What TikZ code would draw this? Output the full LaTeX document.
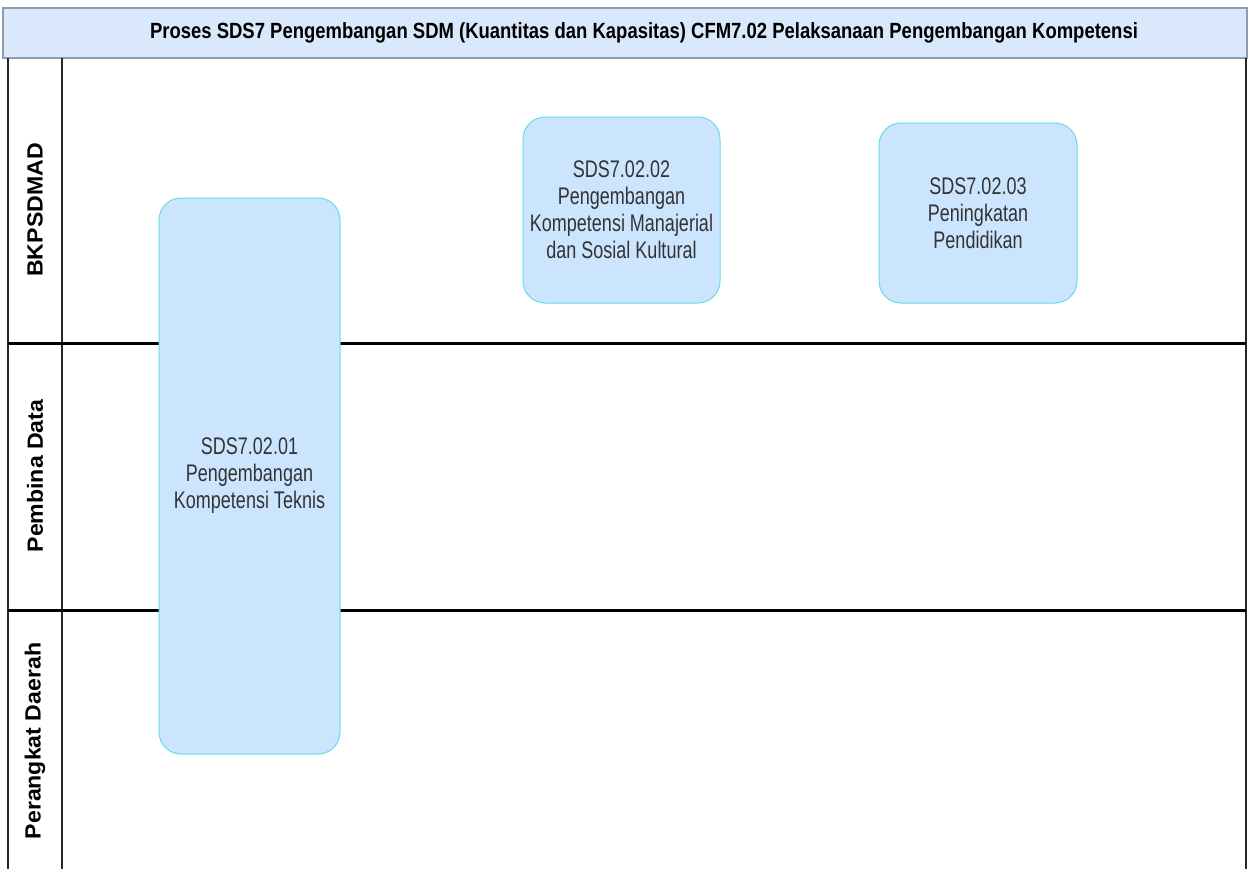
\documentclass[tikz,border=0pt]{standalone}
\usepackage{fontspec}
\setmainfont{Liberation Sans}
\newfontfamily\headfont[FakeStretch=0.84]{Liberation Sans}
\newfontfamily\lanefont[FakeStretch=1.05]{Liberation Sans}
\newfontfamily\taskfont[FakeStretch=0.75]{Liberation Sans}
\definecolor{headfill}{HTML}{DAE8FC}
\definecolor{headline}{HTML}{8C9CB4}
\definecolor{taskfill}{HTML}{CCE5FF}
\definecolor{taskline}{HTML}{66DDE6}
\begin{document}
\begin{tikzpicture}
      [x=1pt,y=-1pt,
        header/.style={draw=headline,line width=1.5pt,fill=headfill,
          minimum width=1244pt,minimum height=50pt,inner sep=0pt,
          font=\headfont\bfseries\fontsize{22}{26}\selectfont},
        lanelabel/.style={rotate=90,font=\lanefont\bfseries\fontsize{22}{26}\selectfont},
        laneline/.style={line width=3pt},
        poolline/.style={line width=2pt,black!85},
        task/.style={draw=taskline,line width=1pt,fill=taskfill,rounded corners=22pt,
          align=center,inner sep=2pt,text=black!80,
          font=\taskfont\fontsize{24}{27}\selectfont}]
  \useasboundingbox (0,0) rectangle (1250,868);
  \fill[white] (0,0) rectangle (1250,868);
  \node[header] (title) at (625,33)
    {\hspace*{38pt}Proses SDS7 Pengembangan SDM (Kuantitas dan Kapasitas) CFM7.02 Pelaksanaan Pengembangan Kompetensi};
  \draw[poolline] (8,58) -- (8,870) (62,58) -- (62,870) (1246,58) -- (1246,870);
  \draw[laneline] (8,343) -- (1246,343);
  \draw[laneline] (8,610) -- (1246,610);
  \node[lanelabel] (bkpsdmad) at (35,210) {BKPSDMAD};
  \node[lanelabel] (pembina) at (35,476) {Pembina Data};
  \node[lanelabel] (perangkat) at (35,741) {Perangkat Daerah};
  \node[task,minimum width=181pt,minimum height=556pt] (teknis) at (249.5,476)
    {SDS7.02.01\\Pengembangan\\Kompetensi Teknis};
  \node[task,minimum width=197pt,minimum height=186pt] (manajerial) at (621.5,210)
    {SDS7.02.02\\Pengembangan\\Kompetensi Manajerial\\dan Sosial Kultural};
  \node[task,minimum width=198pt,minimum height=180pt] (pendidikan) at (978,213)
    {SDS7.02.03\\Peningkatan\\Pendidikan};
\end{tikzpicture}
\end{document}
